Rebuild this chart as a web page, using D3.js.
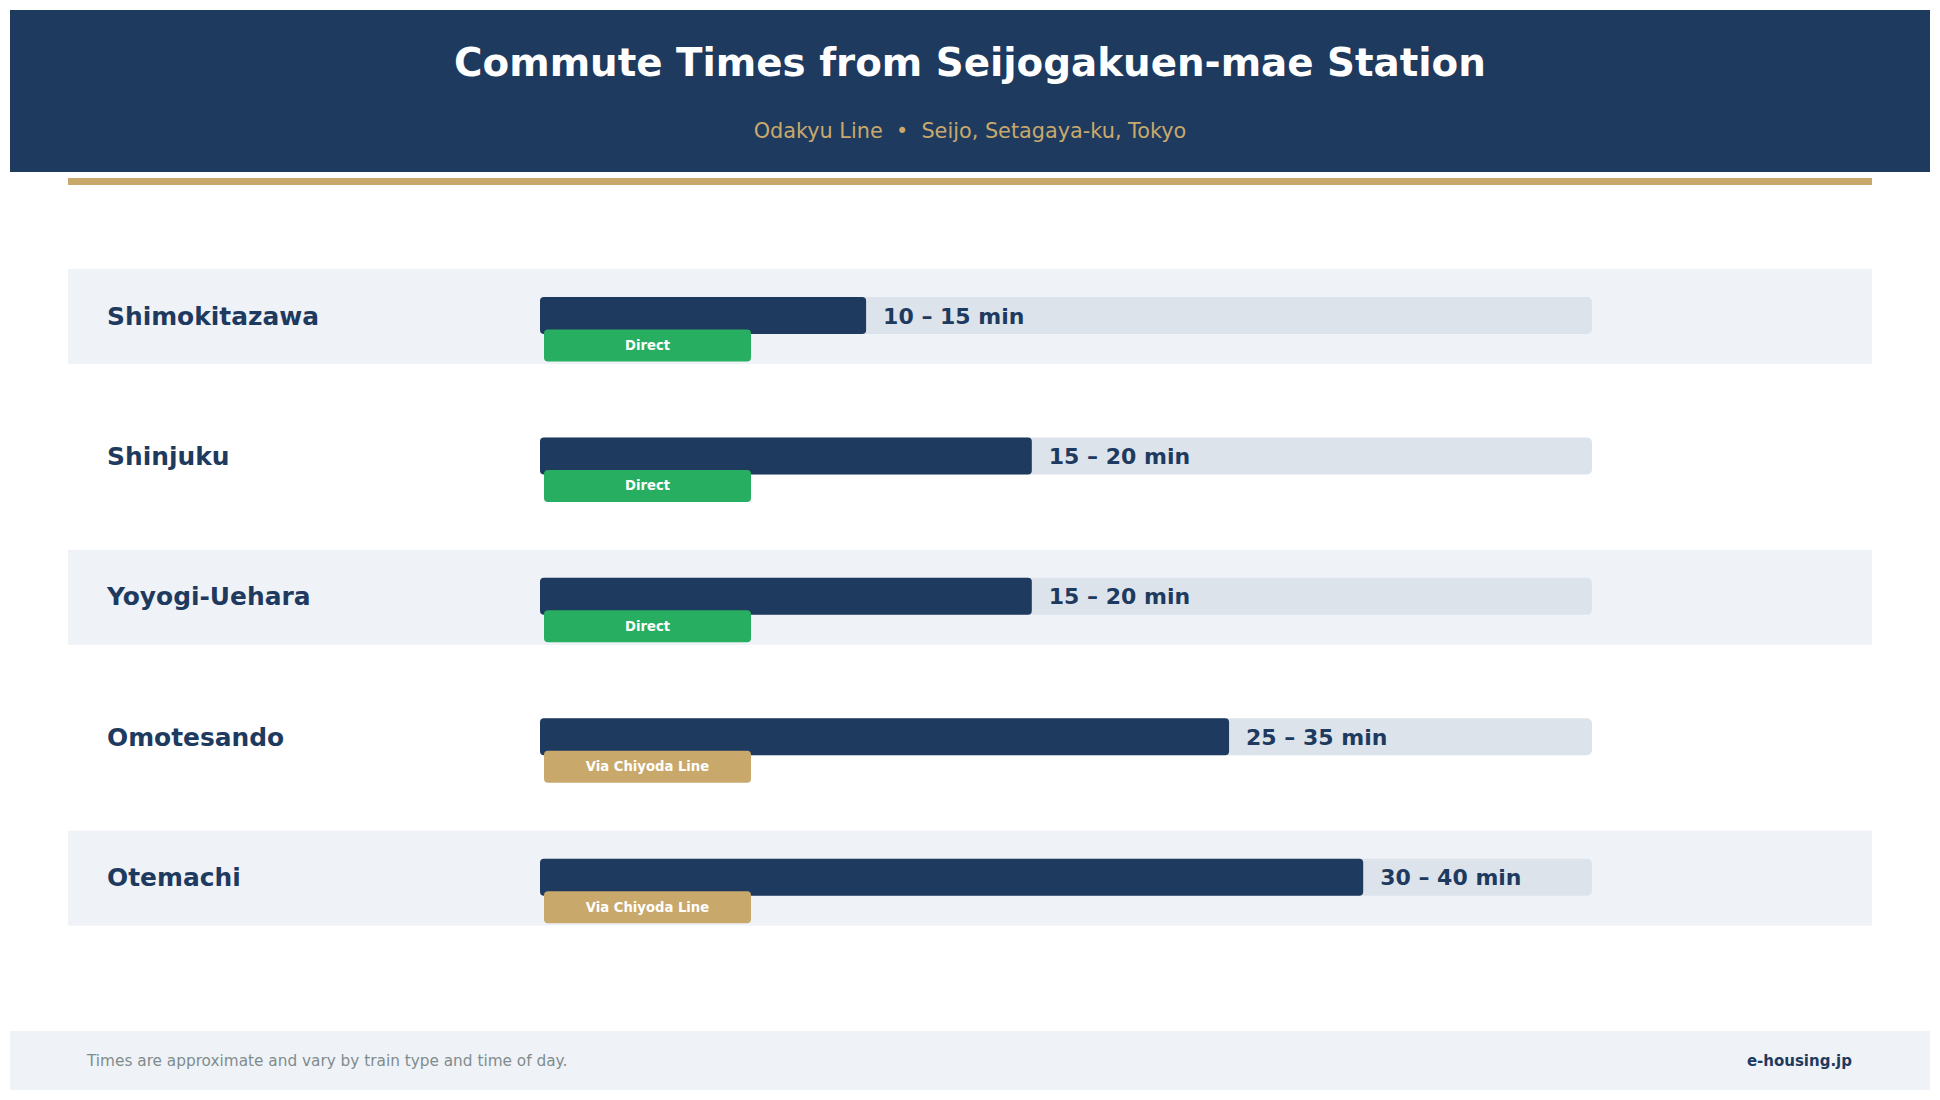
<!DOCTYPE html>
<html>
<head>
<meta charset="utf-8">
<script src="https://cdn.jsdelivr.net/npm/d3@7"></script>
<style>
  html, body { margin: 0; padding: 0; background: #ffffff; }
  svg { display: block; font-family: "DejaVu Sans", sans-serif; }
</style>
</head>
<body>
<svg id="chart" width="1940" height="1100"></svg>
<script>
// ---- Data ----
const stations = ["Shimokitazawa", "Shinjuku", "Yoyogi-Uehara", "Omotesando", "Otemachi"];
const barMinutes = [12.4, 18.7, 18.7, 26.2, 31.3];
const rangeLabels = ["10 – 15 min", "15 – 20 min", "15 – 20 min", "25 – 35 min", "30 – 40 min"];
const routeTypes = ["Direct", "Direct", "Direct", "Via Chiyoda Line", "Via Chiyoda Line"];
const maxMinutes = 40;

const titleText = "Commute Times from Seijogakuen-mae Station";
const subtitleText = "Odakyu Line  •  Seijo, Setagaya-ku, Tokyo";
const footerNote = "Times are approximate and vary by train type and time of day.";
const footerBrand = "e-housing.jp";

// ---- Styles ----
const NAVY = "#1e3a5f";
const GOLD = "#c8a96b";
const GREEN = "#27ae60";
const BAND = "#eff2f7";
const TRACK = "#dde3eb";

const svg = d3.select("#chart");

// Header
svg.append("rect").attr("x", 10).attr("y", 10).attr("width", 1920).attr("height", 162).attr("fill", NAVY);
svg.append("text").attr("x", 970).attr("y", 75.5).attr("text-anchor", "middle")
  .attr("font-size", 38.8).attr("font-weight", "bold").attr("fill", "#ffffff").text(titleText);
svg.append("text").attr("x", 970).attr("y", 137.5).attr("text-anchor", "middle")
  .attr("font-size", 20.8).attr("fill", GOLD).style("white-space", "pre").text(subtitleText);
svg.append("rect").attr("x", 68).attr("y", 178).attr("width", 1804).attr("height", 7).attr("fill", GOLD);

// Scales
const y = d3.scaleBand().domain(stations).range([269, 925.7]).paddingInner(0.3234).paddingOuter(0);
const x = d3.scaleLinear().domain([0, maxMinutes]).range([540, 1592]);

const rows = svg.append("g").selectAll("g").data(stations).join("g")
  .attr("transform", d => `translate(0,${y(d)})`);

// alternating bands
rows.filter((d, i) => i % 2 === 0).append("rect")
  .attr("x", 68).attr("y", 0).attr("width", 1804).attr("height", y.bandwidth()).attr("fill", BAND);

// labels
rows.append("text").attr("x", 107).attr("y", 55.5)
  .attr("font-size", 24.9).attr("font-weight", "bold").attr("fill", NAVY).text(d => d);

// track
rows.append("rect").attr("x", x(0)).attr("y", 28).attr("width", x(maxMinutes) - x(0)).attr("height", 37)
  .attr("rx", 5).attr("fill", TRACK);

// bar
rows.append("rect").attr("x", x(0)).attr("y", 28).attr("width", (d, i) => x(barMinutes[i]) - x(0)).attr("height", 37)
  .attr("rx", 4).attr("fill", NAVY);

// value label
rows.append("text").attr("x", (d, i) => x(barMinutes[i]) + 17).attr("y", 54.5)
  .attr("font-size", 22).attr("font-weight", "bold").attr("fill", NAVY).text((d, i) => rangeLabels[i]);

// badge
rows.append("rect").attr("x", x(0) + 4).attr("y", 60.5).attr("width", 207).attr("height", 32).attr("rx", 4)
  .attr("fill", (d, i) => routeTypes[i] === "Direct" ? GREEN : GOLD);
rows.append("text").attr("x", x(0) + 4 + 103.5).attr("y", 81)
  .attr("text-anchor", "middle").attr("font-size", 13.2).attr("font-weight", "bold").attr("fill", "#ffffff")
  .text((d, i) => routeTypes[i]);

// Footer
svg.append("rect").attr("x", 10).attr("y", 1031).attr("width", 1920).attr("height", 59).attr("fill", BAND);
svg.append("text").attr("x", 87).attr("y", 1066).attr("font-size", 15.3).attr("fill", "#7f8c8d").text(footerNote);
svg.append("text").attr("x", 1852).attr("y", 1066).attr("text-anchor", "end").attr("font-size", 15)
  .attr("font-weight", "bold").attr("fill", NAVY).text(footerBrand);
</script>
</body>
</html>
